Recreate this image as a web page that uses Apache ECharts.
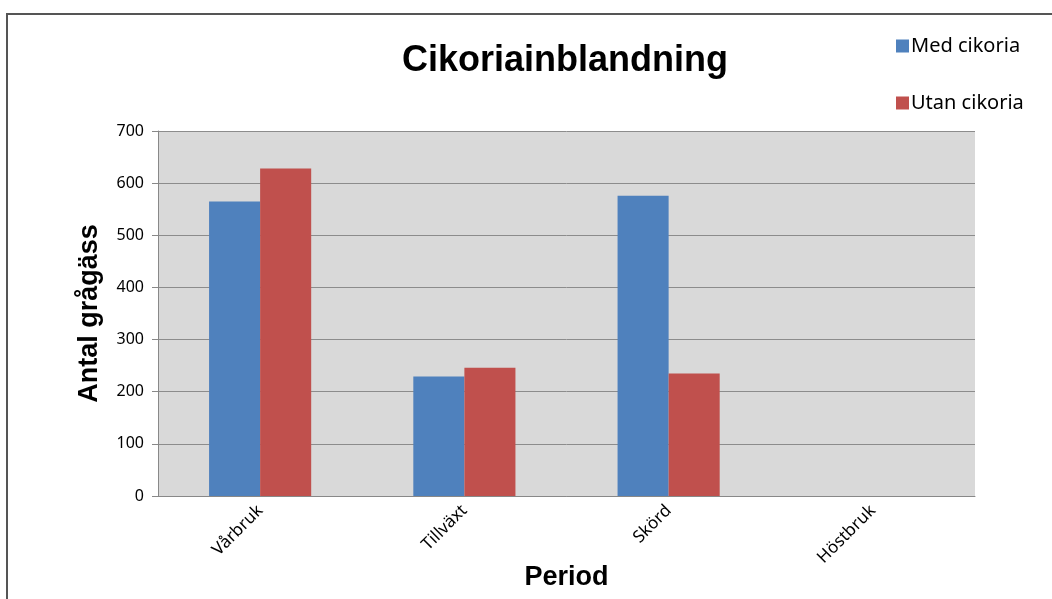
<!DOCTYPE html>
<html>
<head>
<meta charset="utf-8">
<title>Cikoriainblandning</title>
<script src="https://cdn.jsdelivr.net/npm/echarts@6/dist/echarts.min.js"></script>
<style>
  html, body { margin: 0; padding: 0; background: #fff; }
  #chart { width: 1052px; height: 599px; }
</style>
</head>
<body>
<div id="chart"></div>
<script>
// categories and values
var periods = ["Vårbruk", "Tillväxt", "Skörd", "Höstbruk"];
var medCikoria = [565, 229, 576, 0];
var utanCikoria = [628, 246, 235, 0];
var yTicks = [0, 100, 200, 300, 400, 500, 600, 700];

var myChart = echarts.init(document.getElementById('chart'));

var option = {
  backgroundColor: '#ffffff',
  animation: false,
  // outer frame of the chart
  graphic: [{
    type: 'rect',
    shape: { x: 7, y: 14, width: 1200, height: 700 },
    style: { fill: 'none', stroke: '#555', lineWidth: 2 },
    silent: true
  }],
  title: {
    text: 'Cikoriainblandning',
    left: 560,
    top: 38,
    textAlign: 'center',
    textStyle: { fontFamily: 'Liberation Sans', fontWeight: 'bold', fontSize: 36, color: '#000' }
  },
  legend: {
    orient: 'vertical',
    left: 891,
    top: 31,
    itemWidth: 13,
    itemHeight: 13,
    itemGap: 37,
    icon: 'rect',
    itemStyle: { borderWidth: 0 },
    textStyle: { fontFamily: 'Noto Sans', fontSize: 20, color: '#000', padding: [0, 0, 0, -3] },
    data: ['Med cikoria', 'Utan cikoria']
  },
  grid: {
    left: 158, top: 131, right: 77, bottom: 103,
    outerBoundsMode: 'none',
    show: true, backgroundColor: '#d9d9d9', borderWidth: 0
  },
  xAxis: {
    type: 'category',
    data: periods,
    name: 'Period',
    nameLocation: 'middle',
    nameGap: 68,
    nameMoveOverlap: false,
    nameTextStyle: { fontFamily: 'Liberation Sans', fontWeight: 'bold', fontSize: 27, color: '#000' },
    axisLine: { lineStyle: { color: '#888', width: 1 } },
    axisTick: { alignWithLabel: false, length: 7, lineStyle: { color: '#888' } },
    axisLabel: { rotate: 45, margin: 12, fontFamily: 'Noto Sans', fontSize: 17, color: '#000' }
  },
  yAxis: {
    type: 'value',
    min: yTicks[0],
    max: yTicks[yTicks.length - 1],
    interval: 100,
    name: 'Antal grågäss',
    nameLocation: 'middle',
    nameGap: 55,
    nameTextStyle: { fontFamily: 'Liberation Sans', fontWeight: 'bold', fontSize: 27, color: '#000' },
    axisLine: { show: true, lineStyle: { color: '#888', width: 1 } },
    axisTick: { show: true, length: 6, lineStyle: { color: '#888' } },
    axisLabel: { margin: 14, fontFamily: 'Noto Sans', fontSize: 16, color: '#000' },
    splitLine: { lineStyle: { color: '#8c8c8c', width: 1 } }
  },
  series: [{
    name: 'Med cikoria',
    type: 'bar',
    data: medCikoria,
    barGap: '0%',
    barCategoryGap: '50%',
    itemStyle: { color: '#4f81bd' }
  }, {
    name: 'Utan cikoria',
    type: 'bar',
    data: utanCikoria,
    itemStyle: { color: '#c0504d' }
  }]
};

myChart.setOption(option);
</script>
</body>
</html>
